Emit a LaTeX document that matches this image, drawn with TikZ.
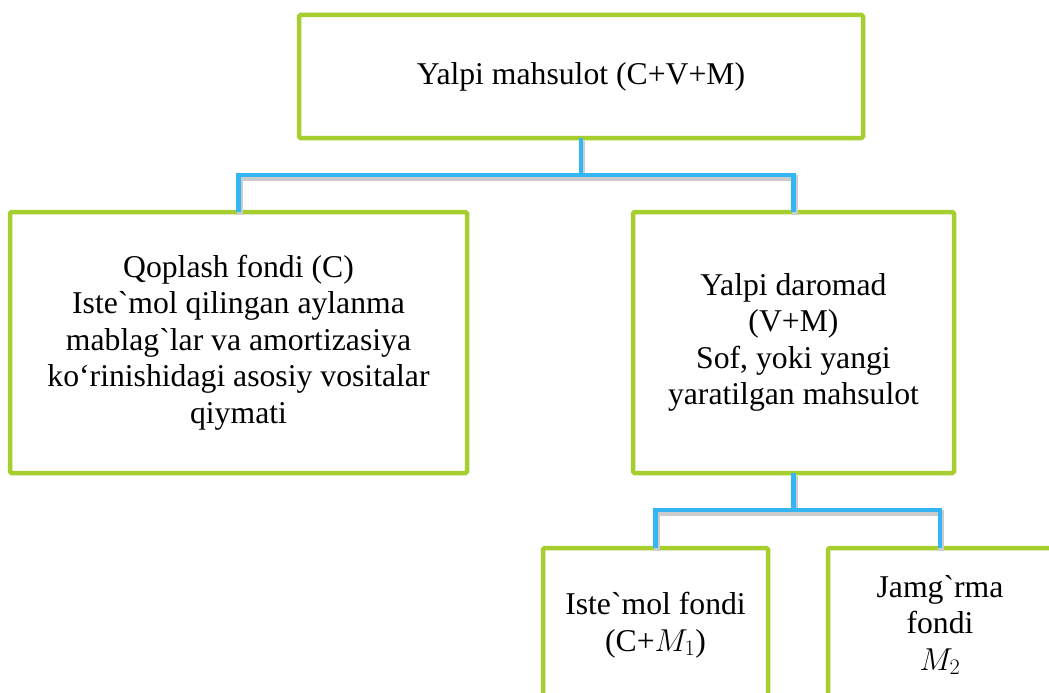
\RequirePackage{fix-cm}
\documentclass[tikz,border=0pt]{standalone}
\usepackage{fontspec}
\setmainfont{Liberation Serif}[Ligatures=TeXOff]
\definecolor{boxgreen}{RGB}{166,206,46}
\definecolor{linkblue}{RGB}{52,182,245}
\begin{document}
\begin{tikzpicture}[x=1pt,y=-1pt,
  box/.style={draw=boxgreen, line width=4.5pt, rounded corners=1.5pt, fill=white,
    align=center, inner sep=0pt, outer sep=0pt,
    font=\fontsize{31.7}{36.5}\selectfont},
  conn/.style={draw=linkblue, line width=4.5pt,
    preaction={draw=black!20, line width=6pt, transform canvas={shift={(1pt,-3pt)}}}}]
\useasboundingbox (0,0) rectangle (1049,693);
\clip (0,0) rectangle (1049,693);
\fill[white] (0,0) rectangle (1049,693);
\coordinate (j1) at (581,175);
\coordinate (j2) at (793.5,510);
\node[box, minimum width=564pt, minimum height=123pt] (top) at (581,76.5) {\raisebox{-4pt}{Yalpi mahsulot (C+V+M)}};
\node[box, minimum width=457pt, minimum height=261pt] (left) at (238.5,342.5)
  {Qoplash fondi (C)\\Iste`mol qilingan aylanma\\mablag`lar va amortizasiya\\ko‘rinishidagi asosiy vositalar\\qiymati};
\node[box, minimum width=321pt, minimum height=261pt] (right) at (793.5,342.5)
  {Yalpi daromad\\(V+M)\\Sof, yoki yangi\\yaratilgan mahsulot};
\node[box, minimum width=225pt, minimum height=154pt] (bl) at (655.5,625)
  {Iste`mol fondi\\(C+$M_1$)};
\node[box, minimum width=224pt, minimum height=154pt] (br) at (940,625)
  {Jamg`rma\\fondi\\$M_2$};
\draw[conn] (top.south) -- (j1);
\draw[conn] (left.north) |- (j1) -| (right.north);
\draw[conn] (right.south) -- (j2);
\draw[conn] (bl.north) |- (j2) -| (br.north);
\end{tikzpicture}
\end{document}
